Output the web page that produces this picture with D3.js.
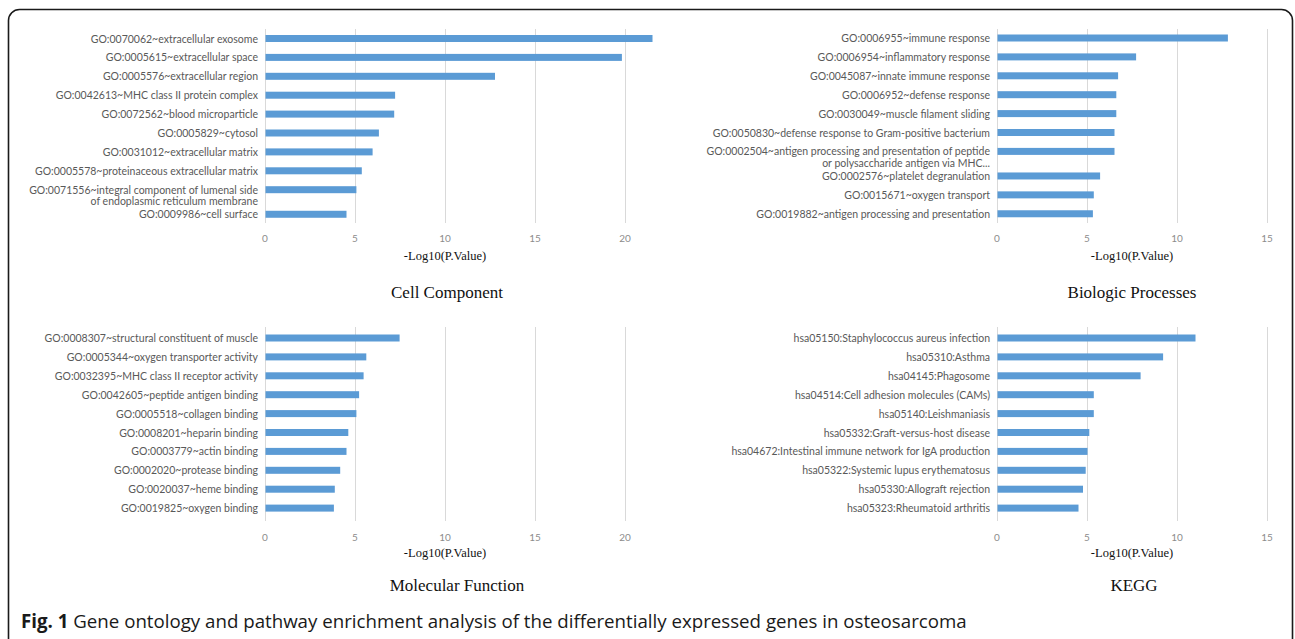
<!DOCTYPE html>
<html>
<head>
<meta charset="utf-8">
<script src="https://cdn.jsdelivr.net/npm/d3@7"></script>
<style>
  html, body { margin: 0; padding: 0; background: #fff; }
  svg { display: block; }
</style>
</head>
<body>
<svg id="fig" width="1295" height="639"></svg>
<script>
// ---- Enrichment results: -log10(p) per term, top 10 per category ----
const ccTerms = [
  "GO:0070062~extracellular exosome",
  "GO:0005615~extracellular space",
  "GO:0005576~extracellular region",
  "GO:0042613~MHC class II protein complex",
  "GO:0072562~blood microparticle",
  "GO:0005829~cytosol",
  "GO:0031012~extracellular matrix",
  "GO:0005578~proteinaceous extracellular matrix",
  "GO:0071556~integral component of lumenal side\nof endoplasmic reticulum membrane",
  "GO:0009986~cell surface"
];
const ccValues = [21.5, 19.8, 12.75, 7.2, 7.15, 6.3, 5.95, 5.35, 5.05, 4.5];

const bpTerms = [
  "GO:0006955~immune response",
  "GO:0006954~inflammatory response",
  "GO:0045087~innate immune response",
  "GO:0006952~defense response",
  "GO:0030049~muscle filament sliding",
  "GO:0050830~defense response to Gram-positive bacterium",
  "GO:0002504~antigen processing and presentation of peptide\nor polysaccharide antigen via MHC...",
  "GO:0002576~platelet degranulation",
  "GO:0015671~oxygen transport",
  "GO:0019882~antigen processing and presentation"
];
const bpValues = [12.8, 7.7, 6.7, 6.6, 6.6, 6.5, 6.5, 5.7, 5.35, 5.3];

const mfTerms = [
  "GO:0008307~structural constituent of muscle",
  "GO:0005344~oxygen transporter activity",
  "GO:0032395~MHC class II receptor activity",
  "GO:0042605~peptide antigen binding",
  "GO:0005518~collagen binding",
  "GO:0008201~heparin binding",
  "GO:0003779~actin binding",
  "GO:0002020~protease binding",
  "GO:0020037~heme binding",
  "GO:0019825~oxygen binding"
];
const mfValues = [7.45, 5.6, 5.45, 5.2, 5.05, 4.6, 4.5, 4.15, 3.85, 3.8];

const keggTerms = [
  "hsa05150:Staphylococcus aureus infection",
  "hsa05310:Asthma",
  "hsa04145:Phagosome",
  "hsa04514:Cell adhesion molecules (CAMs)",
  "hsa05140:Leishmaniasis",
  "hsa05332:Graft-versus-host disease",
  "hsa04672:Intestinal immune network for IgA production",
  "hsa05322:Systemic lupus erythematosus",
  "hsa05330:Allograft rejection",
  "hsa05323:Rheumatoid arthritis"
];
const keggValues = [11.0, 9.2, 7.95, 5.35, 5.35, 5.1, 5.0, 4.9, 4.75, 4.5];

const wideTicks = [0, 5, 10, 15, 20];
const narrowTicks = [0, 5, 10, 15];

const panelTitles = ["Cell Component", "Biologic Processes", "Molecular Function", "KEGG"];
const axisLabel = "-Log10(P.Value)";
const captionLead = "Fig. 1";
const captionBody = "Gene ontology and pathway enrichment analysis of the differentially expressed genes in osteosarcoma";

// ---- Layout ----
const svg = d3.select("#fig");
const BAR = "#5B9BD5";
const GRID = "#d9d9d9";
const ROW = 18.9;          // vertical pitch of one category row
const WRAP_EXTRA = 0.3;    // extra row space taken by a wrapped (two-line) label

const panels = [
  { terms: ccTerms,   values: ccValues,   ticks: wideTicks,   title: panelTitles[0],
    x0: 265, rowTop: 38.5, gridTop: 29,  gridBottom: 223, tickY: 238, axisY: 256, titleY: 292, titleDx: 2 },
  { terms: bpTerms,   values: bpValues,   ticks: narrowTicks, title: panelTitles[1],
    x0: 997, rowTop: 38,   gridTop: 29,  gridBottom: 223, tickY: 238, axisY: 256, titleY: 292, titleDx: 0 },
  { terms: mfTerms,   values: mfValues,   ticks: wideTicks,   title: panelTitles[2],
    x0: 265, rowTop: 338,  gridTop: 327, gridBottom: 521, tickY: 537, axisY: 553, titleY: 585, titleDx: 12 },
  { terms: keggTerms, values: keggValues, ticks: narrowTicks, title: panelTitles[3],
    x0: 997, rowTop: 338,  gridTop: 327, gridBottom: 521, tickY: 537, axisY: 553, titleY: 585, titleDx: 2 }
];

// Outer frame
svg.append("rect")
  .attr("x", 8.5).attr("y", 9.5)
  .attr("width", 1284).attr("height", 640)
  .attr("rx", 11).attr("ry", 11)
  .attr("fill", "none").attr("stroke", "#1a1a1a").attr("stroke-width", 1.6);

panels.forEach(p => {
  const maxTick = d3.max(p.ticks);
  const x = d3.scaleLinear().domain([0, maxTick]).range([p.x0, p.x0 + 18 * maxTick]);

  // row slots: a wrapped label pushes the following rows down a little
  let extra = 0;
  const rows = p.terms.map((t, i) => {
    const lines = t.split("\n");
    const r = { term: t, lines, value: p.values[i], slot: i + extra };
    if (lines.length > 1) extra += WRAP_EXTRA;
    return r;
  });
  const maxSlot = d3.max(rows, r => r.slot);
  const y = d3.scaleLinear().domain([0, maxSlot]).range([p.rowTop, p.rowTop + ROW * maxSlot]);

  const g = svg.append("g");

  // vertical gridlines
  g.selectAll("line.grid").data(p.ticks).join("line")
    .attr("class", "grid")
    .attr("x1", d => Math.round(x(d)) + 0.5).attr("x2", d => Math.round(x(d)) + 0.5)
    .attr("y1", p.gridTop).attr("y2", p.gridBottom)
    .attr("stroke", GRID).attr("stroke-width", 1);

  // tick labels
  g.selectAll("text.tick").data(p.ticks).join("text")
    .attr("class", "tick")
    .attr("x", d => x(d)).attr("y", p.tickY)
    .attr("text-anchor", "middle").attr("dominant-baseline", "central")
    .attr("font-family", "Lato, 'Open Sans', sans-serif").attr("font-size", 10)
    .attr("fill", "#8c8c8c")
    .text(d => d);

  // bars
  g.selectAll("rect.bar").data(rows).join("rect")
    .attr("class", "bar")
    .attr("x", x(0) + 0.5)
    .attr("y", d => y(d.slot) - 3.5)
    .attr("width", d => x(d.value) - x(0))
    .attr("height", 7)
    .attr("fill", BAR);

  // category labels (right aligned, wrapped labels start on the bar line)
  const lab = g.selectAll("text.cat").data(rows).join("text")
    .attr("class", "cat")
    .attr("text-anchor", "end")
    .attr("font-family", "Lato, 'Open Sans', sans-serif").attr("font-size", 10.5)
    .attr("fill", "#595959");
  lab.each(function(d) {
    const t = d3.select(this);
    d.lines.forEach((ln, k) => {
      t.append("tspan")
        .attr("x", p.x0 - 7)
        .attr("y", y(d.slot) + k * 11.5)
        .attr("dominant-baseline", "central")
        .text(ln);
    });
  });

  const cx = (x(0) + x(maxTick)) / 2;
  // axis title
  g.append("text")
    .attr("x", cx).attr("y", p.axisY)
    .attr("text-anchor", "middle").attr("dominant-baseline", "central")
    .attr("font-family", "'Liberation Serif', 'Times New Roman', serif").attr("font-size", 12.5)
    .attr("fill", "#111")
    .text(axisLabel);

  // panel title
  g.append("text")
    .attr("x", cx + p.titleDx).attr("y", p.titleY)
    .attr("text-anchor", "middle").attr("dominant-baseline", "central")
    .attr("font-family", "'Liberation Serif', 'Times New Roman', serif").attr("font-size", 17)
    .attr("fill", "#111")
    .text(p.title);
});

// Figure caption
const cap = svg.append("text")
  .attr("x", 21).attr("y", 620)
  .attr("dominant-baseline", "central")
  .attr("font-family", "'Open Sans', 'Noto Sans', sans-serif").attr("font-size", 18.7)
  .attr("fill", "#1a1a1a");
cap.append("tspan").attr("font-weight", "bold").text(captionLead);
cap.append("tspan").text(" " + captionBody);
</script>
</body>
</html>
